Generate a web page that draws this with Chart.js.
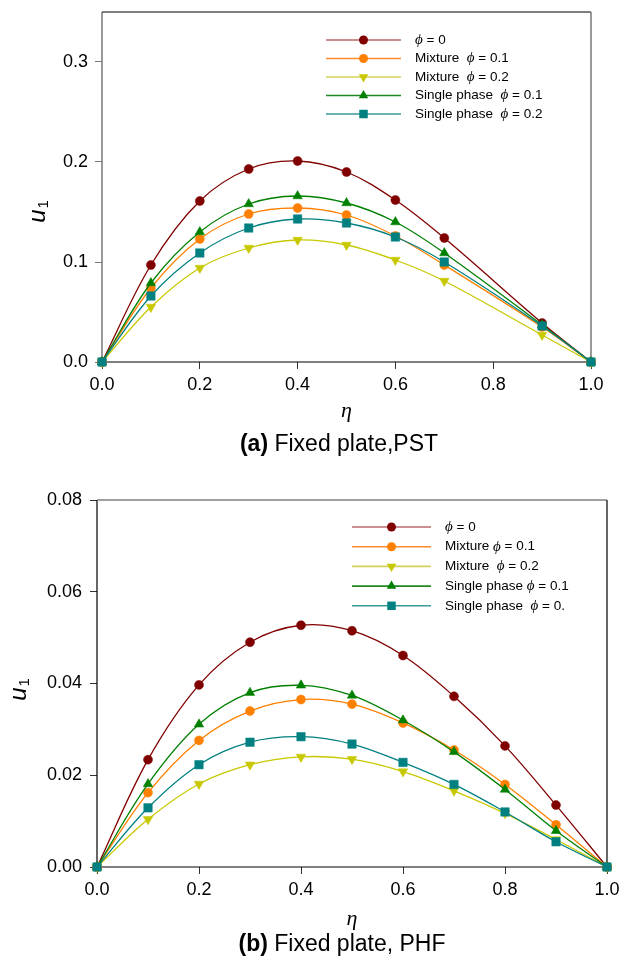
<!DOCTYPE html>
<html lang="en">
<head>
<meta charset="UTF-8">
<title>u1 profiles - fixed plate</title>
<script src="https://cdn.jsdelivr.net/npm/chart.js@4.4.1/dist/chart.umd.min.js"></script>
<style>
  body { margin: 0; background: #fff; }
  canvas { position: absolute; left: 0; }
  #chartA { top: 0; }
  #chartB { top: 470px; }
</style>
</head>
<body>
<canvas id="chartA" width="625" height="470"></canvas>
<canvas id="chartB" width="625" height="496"></canvas>
<script>
// eta positions (panel a has no point at 0.8)
var etaA = [0, 0.1, 0.2, 0.3, 0.4, 0.5, 0.6, 0.7, 0.9, 1.0];
var etaB = [0, 0.1, 0.2, 0.3, 0.4, 0.5, 0.6, 0.7, 0.8, 0.9, 1.0];

// (a) Fixed plate, PST
var aPhi0  = [0, 0.097, 0.161, 0.193, 0.201, 0.190, 0.162, 0.124, 0.039, 0];
var aMix01 = [0, 0.074, 0.123, 0.148, 0.154, 0.147, 0.126, 0.097, 0.035, 0];
var aMix02 = [0, 0.055, 0.094, 0.114, 0.122, 0.117, 0.102, 0.081, 0.027, 0];
var aSp01  = [0, 0.079, 0.130, 0.158, 0.166, 0.159, 0.140, 0.109, 0.037, 0];
var aSp02  = [0, 0.066, 0.109, 0.134, 0.143, 0.139, 0.125, 0.100, 0.036, 0];

// (b) Fixed plate, PHF
var bPhi0  = [0, 0.0234, 0.0397, 0.0490, 0.0527, 0.0515, 0.0461, 0.0372, 0.0264, 0.0135, 0];
var bMix01 = [0, 0.0162, 0.0276, 0.0340, 0.0365, 0.0355, 0.0314, 0.0255, 0.0180, 0.0092, 0];
var bMix02 = [0, 0.0104, 0.0181, 0.0223, 0.0240, 0.0235, 0.0208, 0.0166, 0.0117, 0.0060, 0];
var bSp01  = [0, 0.0181, 0.0311, 0.0380, 0.0396, 0.0374, 0.0320, 0.0251, 0.0169, 0.0079, 0];
var bSp02  = [0, 0.0129, 0.0223, 0.0272, 0.0284, 0.0268, 0.0228, 0.0180, 0.0120, 0.0055, 0];

// legend texts
var namesA = ['', 'Mixture  ', 'Mixture  ', 'Single phase  ', 'Single phase  '];
var namesB = ['', 'Mixture ', 'Mixture  ', 'Single phase ', 'Single phase  '];
var phiA = ['0', '0.1', '0.2', '0.1', '0.2'];
var phiB = ['0', '0.1', '0.2', '0.1', '0.'];

// ticks
var xTicks = [0, 0.2, 0.4, 0.6, 0.8, 1.0];
var yTicksA = [0, 0.1, 0.2, 0.3];
var yTicksB = [0, 0.02, 0.04, 0.06, 0.08];

// styles
var lineColors = ['#800000', '#ff8000', '#c8c800', '#008000', '#008080'];
var legendLineColors = ['#b86a6a', '#ff8a2a', '#d2d25a', '#1f8a1f', '#3a9a9a'];
var pointShapes = ['circle', 'circle', 'triangle', 'triangle', 'rect'];
var pointTurns = [0, 0, 180, 0, 0];
var pointSizes = [4.5, 4.5, 5.5, 5.5, 6];

var SANS = "'Liberation Sans', Arial, sans-serif";
var SERIF = "'Liberation Serif', 'Times New Roman', serif";

function drawMarker(ctx, shape, x, y, r, rot, color) {
    ctx.save();
    ctx.fillStyle = color;
    ctx.beginPath();
    if (shape === 'circle') {
        ctx.arc(x, y, r, 0, Math.PI * 2);
    } else if (shape === 'rect') {
        var s = r * Math.SQRT1_2;
        ctx.rect(x - s, y - s, 2 * s, 2 * s);
    } else {
        var a = rot * Math.PI / 180;
        for (var k = 0; k < 3; k++) {
            var px = x + Math.sin(a) * r, py = y - Math.cos(a) * r;
            if (k === 0) ctx.moveTo(px, py); else ctx.lineTo(px, py);
            a += 2 * Math.PI / 3;
        }
        ctx.closePath();
    }
    ctx.fill();
    ctx.restore();
}

function makeChart(id, eta, series, names, phis, yTicks, yMax, decimals, look) {

    var datasets = series.map(function (vals, i) {
        return {
            label: names[i] + 'phi = ' + phis[i],
            data: vals.map(function (v, j) { return { x: eta[j], y: v }; }),
            borderColor: lineColors[i],
            backgroundColor: lineColors[i],
            borderWidth: 1.3,
            tension: 0.35,
            pointStyle: pointShapes[i],
            pointRotation: pointTurns[i],
            pointRadius: pointSizes[i],
            pointBorderWidth: 0.5,
            clip: false,
            order: 5 - i
        };
    });

    // frame, axis titles, legend and caption
    var deco = {
        id: 'deco',
        beforeDatasetsDraw: function (chart) {
            var c = chart.ctx, ar = chart.chartArea;
            var sides = [
                [ar.left, ar.top, ar.left, ar.bottom, look.frame[0]],
                [ar.left, ar.top, ar.right, ar.top, look.frame[1]],
                [ar.right, ar.top, ar.right, ar.bottom, look.frame[2]],
                [ar.left, ar.bottom, ar.right, ar.bottom, look.frame[3]]
            ];
            c.save();
            sides.forEach(function (s) {
                c.strokeStyle = s[4][0];
                c.lineWidth = s[4][1];
                c.beginPath();
                c.moveTo(s[0], s[1]);
                c.lineTo(s[2], s[3]);
                c.stroke();
            });
            c.restore();
        },
        afterDraw: function (chart) {
            var c = chart.ctx, ar = chart.chartArea;
            c.save();
            c.fillStyle = '#000';
            c.textBaseline = 'middle';

            // y title u1
            c.save();
            c.translate(look.yTitle[0], look.yTitle[1]);
            c.rotate(-Math.PI / 2);
            c.font = 'italic 24px ' + SANS;
            var wu = c.measureText('u').width;
            c.font = '15px ' + SANS;
            var w1 = c.measureText('1').width;
            c.font = 'italic 24px ' + SANS;
            c.textAlign = 'left';
            c.fillText('u', -(wu + w1) / 2, 0);
            c.font = '15px ' + SANS;
            c.fillText('1', -(wu + w1) / 2 + wu + 1, 6);
            c.restore();

            // x title eta
            c.textAlign = 'center';
            c.font = 'italic 22px ' + SERIF;
            c.fillText('\u03B7', (ar.left + ar.right) / 2, look.xTitleY);

            // caption
            c.font = 'bold 23px ' + SANS;
            var wl = c.measureText(look.capLetter).width;
            c.font = '23px ' + SANS;
            var wt = c.measureText(look.capText).width;
            var x0 = look.capX - (wl + wt) / 2;
            c.textAlign = 'left';
            c.font = 'bold 23px ' + SANS;
            c.fillText(look.capLetter, x0, look.capY);
            c.font = '23px ' + SANS;
            c.fillText(look.capText, x0 + wl, look.capY);

            // legend
            var L = look.legend;
            chart.data.datasets.forEach(function (ds, i) {
                var y = L.y0 + i * L.dy;
                c.strokeStyle = legendLineColors[i];
                c.lineWidth = 1.6;
                c.beginPath();
                c.moveTo(L.x1, y);
                c.lineTo(L.x2, y);
                c.stroke();
                drawMarker(c, ds.pointStyle, (L.x1 + L.x2) / 2, y, ds.pointRadius, ds.pointRotation, ds.borderColor);
                var x = L.xt;
                c.fillStyle = '#000';
                c.font = '13.5px ' + SANS;
                c.fillText(names[i], x, y);
                x += c.measureText(names[i]).width;
                c.font = 'italic 15px ' + SERIF;
                c.fillText('\u03D5', x, y);
                x += c.measureText('\u03D5').width;
                c.font = '13.5px ' + SANS;
                c.fillText(' = ' + phis[i], x, y);
            });
            c.restore();
        }
    };

    return new Chart(document.getElementById(id), {
        type: 'line',
        data: { datasets: datasets },
        options: {
            responsive: false,
            animation: false,
            layout: { padding: { left: 0, top: look.top, right: look.right, bottom: 0 } },
            plugins: { legend: { display: false }, tooltip: { enabled: false } },
            scales: {
                x: {
                    type: 'linear',
                    min: 0,
                    max: 1,
                    afterBuildTicks: function (s) { s.ticks = xTicks.map(function (v) { return { value: v }; }); },
                    afterFit: function (s) { s.height = look.xHeight; s.paddingLeft = 0; s.paddingRight = 0; },
                    ticks: {
                        color: '#000',
                        padding: 5,
                        maxRotation: 0,
                        font: { family: SANS, size: 18 },
                        callback: function (v) { return v.toFixed(1); }
                    },
                    grid: { drawOnChartArea: false, drawTicks: true, tickLength: 7, color: '#333' },
                    border: { display: false }
                },
                y: {
                    type: 'linear',
                    min: 0,
                    max: yMax,
                    afterBuildTicks: function (s) { s.ticks = yTicks.map(function (v) { return { value: v }; }); },
                    afterFit: function (s) { s.width = look.yWidth; s.paddingTop = 0; s.paddingBottom = 0; },
                    ticks: {
                        color: '#000',
                        padding: look.yPad,
                        font: { family: SANS, size: 18 },
                        callback: function (v) { return v.toFixed(decimals); }
                    },
                    grid: { drawOnChartArea: false, drawTicks: true, tickLength: 7, color: look.yTickColor },
                    border: { display: false }
                }
            }
        },
        plugins: [deco]
    });
}

makeChart('chartA', etaA, [aPhi0, aMix01, aMix02, aSp01, aSp02], namesA, phiA, yTicksA, 0.35, 1, {
    top: 12, right: 34, xHeight: 108, yWidth: 102, yPad: 7, yTickColor: '#777',
    frame: [['#808080', 1.6], ['#000', 1], ['#808080', 1.6], ['#000', 1.2]],
    yTitle: [38, 212], xTitleY: 411,
    capLetter: '(a)', capText: ' Fixed plate,PST', capX: 339, capY: 445,
    legend: { y0: 40, dy: 18.5, x1: 326, x2: 401, xt: 415 }
});

makeChart('chartB', etaB, [bPhi0, bMix01, bMix02, bSp01, bSp02], namesB, phiB, yTicksB, 0.08, 2, {
    top: 30, right: 18, xHeight: 99, yWidth: 97, yPad: 8, yTickColor: '#333',
    frame: [['#000', 1.2], ['#808080', 1.6], ['#000', 1.2], ['#000', 1.2]],
    yTitle: [19, 220], xTitleY: 449,
    capLetter: '(b)', capText: ' Fixed plate, PHF', capX: 342, capY: 475,
    legend: { y0: 57, dy: 19.7, x1: 352, x2: 431, xt: 445 }
});
</script>
</body>
</html>
